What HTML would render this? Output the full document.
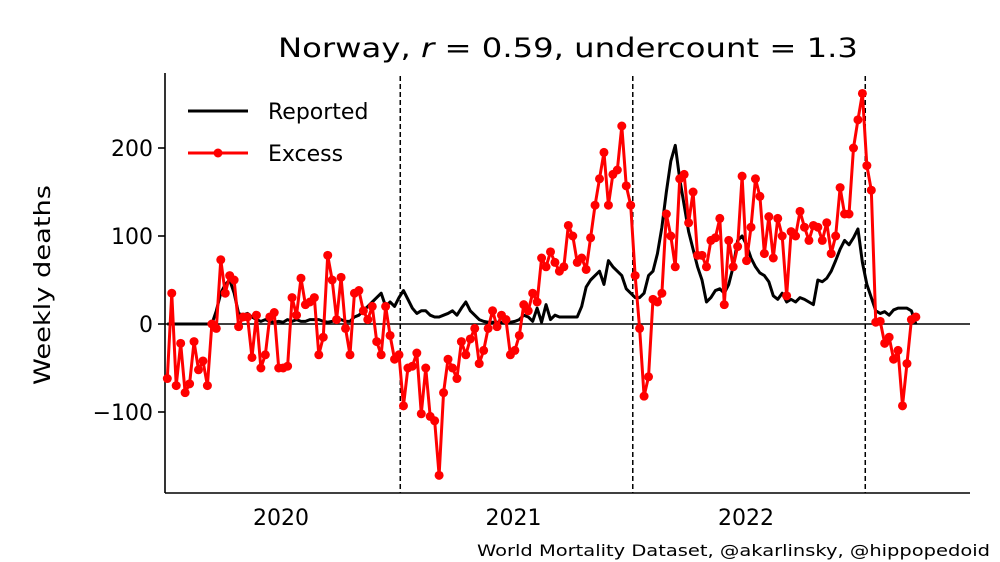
<!DOCTYPE html>
<html><head><meta charset="utf-8"><style>
body{margin:0;background:#fff}
svg{display:block;font-family:"DejaVu Sans","Liberation Sans",sans-serif}
</style></head><body>
<svg id="chart" width="1000" height="562">
<text x="568" y="57" font-size="27" text-anchor="middle" textLength="580" lengthAdjust="spacingAndGlyphs">Norway, <tspan font-style="italic">r</tspan> = 0.59, undercount = 1.3</text>
<text transform="translate(50,285) rotate(-90)" font-size="22" text-anchor="middle" textLength="200" lengthAdjust="spacingAndGlyphs">Weekly deaths</text>
<text x="990" y="556" font-size="16" text-anchor="end" textLength="513" lengthAdjust="spacingAndGlyphs">World Mortality Dataset, @akarlinsky, @hippopedoid</text>
<g id="plot"></g>
<g>
<line x1="188" y1="111" x2="248" y2="111" stroke="#000" stroke-width="3"/>
<text x="268" y="119" font-size="22">Reported</text>
<line x1="188" y1="153" x2="248" y2="153" stroke="red" stroke-width="3"/>
<circle cx="218" cy="153" r="4.5" fill="red"/>
<text x="268" y="161" font-size="22">Excess</text>
</g>
</svg>
<script>
const startYear = 2019.511;
const weeksPerYear = 52.18;
const yTicks = [-100, 0, 100, 200];
const yTickLabels = ["\u2212100", "0", "100", "200"];
const xTicks = [2020, 2021, 2022];
const xTickLabels = ["2020", "2021", "2022"];
const waveLines = [2020.513, 2021.513, 2022.513];
const reported = [0,0,0,0,0,0,0,0,0,0,0,15,35,45,50,35,12,10,12,8,5,3,5,3,2,3,2,5,3,5,3,3,5,5,5,3,2,3,5,5,3,3,8,10,15,20,25,30,35,20,25,20,30,38,28,18,12,15,15,10,8,8,10,12,15,10,18,25,15,10,5,3,2,2,2,2,3,2,3,5,10,8,3,18,2,22,5,10,8,8,8,8,8,20,42,50,55,60,45,72,65,60,55,40,35,30,30,35,55,60,80,110,150,185,203,165,135,105,85,65,50,25,30,38,40,35,45,65,95,100,90,75,65,58,55,48,32,28,35,25,28,25,30,28,25,22,50,48,52,60,72,85,95,90,98,108,70,45,30,15,12,14,10,16,18,18,18,15,0];
const excess = [-62,35,-70,-22,-78,-68,-20,-52,-42,-70,0,-5,73,35,55,50,-3,8,8,-38,10,-50,-35,8,13,-50,-50,-48,30,10,52,22,25,30,-35,-15,78,50,5,53,-5,-35,35,38,15,5,20,-20,-35,20,-13,-40,-35,-93,-50,-48,-33,-102,-50,-105,-110,-172,-78,-40,-50,-62,-20,-35,-17,-5,-45,-30,-5,15,-3,10,5,-35,-30,-13,22,15,35,25,75,65,82,70,60,65,112,100,70,75,62,98,135,165,195,135,170,175,225,157,135,55,-5,-82,-60,28,25,35,125,100,65,165,170,115,150,78,78,65,95,98,120,22,95,65,88,168,72,110,165,145,80,122,75,120,100,32,105,100,128,110,95,112,110,95,115,80,100,155,125,125,200,232,262,180,152,2,3,-22,-15,-40,-30,-93,-45,5,8];

const L=165,R=970,T=73,B=493;
const xs = yr => 281 + (yr-2020)*232.5;
const ys = v => 324 - v*0.88;
const wk = i => startYear + i/weeksPerYear;
const NS="http://www.w3.org/2000/svg";
const g=document.getElementById('plot');
function mk(tag,attrs,parent){const e=document.createElementNS(NS,tag);for(const k in attrs)e.setAttribute(k,attrs[k]);(parent||g).appendChild(e);return e;}

let a=mk('line',{x1:L,y1:T,x2:L,y2:B,stroke:'#000','stroke-width':1.6});


a=mk('line',{x1:L,y1:B,x2:R,y2:B,stroke:'#000','stroke-width':1.6});


yTicks.forEach((v,i)=>{
  mk('line',{x1:L-7,y1:ys(v),x2:L,y2:ys(v),stroke:'#000','stroke-width':1.6});
  const t=mk('text',{x:L-12,y:ys(v)+8,'font-size':22,'text-anchor':'end'});
  t.textContent=yTickLabels[i];
  
  
});
xTicks.forEach((v,i)=>{
  const t=mk('text',{x:xs(v),y:525,'font-size':22,'text-anchor':'middle'});
  t.textContent=xTickLabels[i];
  
  
});
a=mk('line',{x1:L,y1:ys(0),x2:R,y2:ys(0),stroke:'#000','stroke-width':1.6});


waveLines.forEach(v=>{
  const l=mk('line',{x1:xs(v),y1:76,x2:xs(v),y2:B,stroke:'#000','stroke-width':1.5,'stroke-dasharray':'5,3'});
  
  
});
let p=mk('polyline',{points:reported.map((v,i)=>xs(wk(i))+','+ys(v)).join(' '),fill:'none',stroke:'#000','stroke-width':3,'stroke-linejoin':'round'});


p=mk('polyline',{points:excess.map((v,i)=>xs(wk(i))+','+ys(v)).join(' '),fill:'none',stroke:'red','stroke-width':3,'stroke-linejoin':'round'});


excess.forEach((v,i)=>{
  const c=mk('circle',{cx:xs(wk(i)),cy:ys(v),r:4.5,fill:'red'});
  
  
});
</script>
</body></html>
